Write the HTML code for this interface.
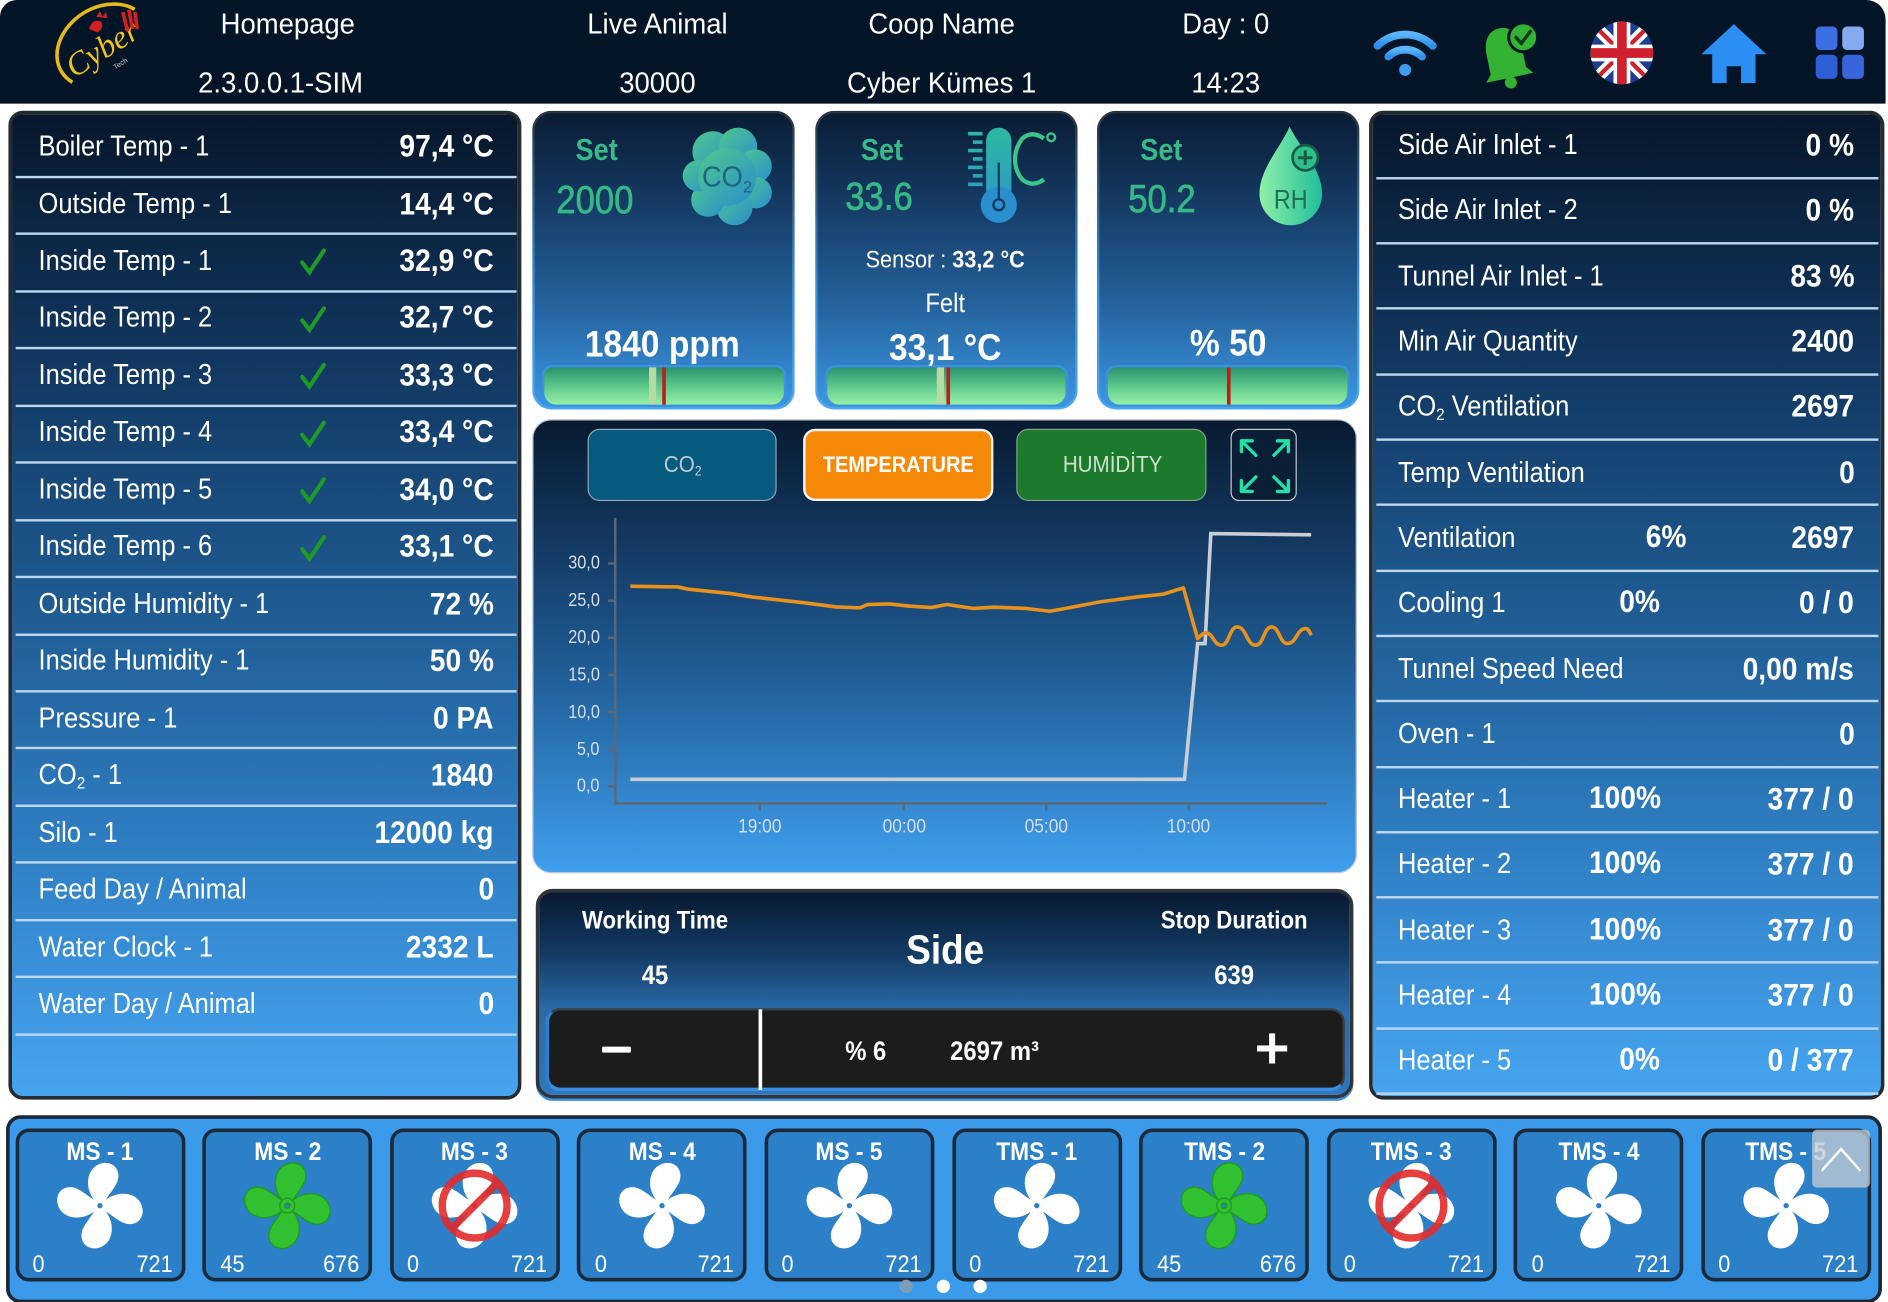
<!DOCTYPE html>
<html><head><meta charset="utf-8">
<style>
html,body{margin:0;padding:0;width:1888px;height:1302px;overflow:hidden;background:#fff}
#s{position:absolute;left:0;top:0;width:1568px;height:1081px;transform:scale(1.204082,1.204440);transform-origin:0 0;background:#fff;font-family:"Liberation Sans",sans-serif;color:#fff;overflow:hidden}
.a{position:absolute}
.t{position:absolute;white-space:nowrap;line-height:1}
.L{transform:scaleX(.9);transform-origin:0 50%}
.R{transform:scaleX(.9);transform-origin:100% 50%}
.C{transform:translateX(-50%) scaleX(.9)}
.H{transform:translateX(-50%) scaleX(.95)}
.b{font-weight:bold}
.panel{position:absolute;box-sizing:border-box;border:3px solid #262b31;border-radius:12px;background:linear-gradient(180deg,#07172b 0%,#113760 25%,#1f5b92 50%,#2f7fc4 75%,#46a5f0 100%)}
.card{position:absolute;top:92px;width:218px;height:248px;box-sizing:border-box;border:2.5px solid transparent;border-radius:16px;background:linear-gradient(180deg,#091c34 0%,#153a63 30%,#24629c 65%,#3c96e4 100%) padding-box,linear-gradient(180deg,#2b333d,#3b8fd8 60%,#4aa8f0) border-box}
.bar{position:absolute;top:303px;height:35px;box-sizing:border-box;border:2px solid #3b93de;border-radius:9px 9px 12px 12px;background:linear-gradient(180deg,#2a9270,#5cc88a 50%,#98f0a8);overflow:hidden}
.rows{position:absolute}
.row{position:relative;display:flex;align-items:center;justify-content:space-between;box-sizing:border-box;border-bottom:2.5px solid #bdd7ee;white-space:nowrap}
.lr .row{height:47.47px;padding:0 19px 3px 19px}
.rr .row{height:54.3px;padding:0 20px 0 18px}
.lb{font-size:23.5px;display:inline-block;transform:scaleX(.9);transform-origin:0 50%}
.vl{font-size:26px;font-weight:bold;display:inline-block;transform:scaleX(.9);transform-origin:100% 50%}
.mid{position:absolute;top:0;bottom:2.5px;display:flex;align-items:center}
.ck{position:absolute;left:235px;top:10px}
sub{font-size:.6em;vertical-align:-.25em;line-height:0}
.btn{position:absolute;top:356px;height:60px;box-sizing:border-box;border-radius:10px}
.fc{position:absolute;top:937px;width:141px;height:127px;box-sizing:border-box;background:#2c80c8;border:3px solid #1b2a3b;border-radius:11px}
.sv{-webkit-text-stroke:0.6px #35b886}
</style></head><body><div id="s">

<!-- header -->
<div class="a" style="left:0;top:0;width:1566px;height:86px;background:#051528;border-radius:14px 16px 0 0"></div>

<!-- left panel -->
<div class="panel" style="left:7px;top:92px;width:426px;height:821px"></div>
<!-- right panel -->
<div class="panel" style="left:1137px;top:92px;width:428px;height:821px"></div>

<!-- top cards -->
<div class="card" style="left:442px"></div>
<div class="card" style="left:677px"></div>
<div class="card" style="left:911px"></div>

<div class="bar" style="left:450px;width:203px"><div class="a" style="left:87px;top:0;width:6px;height:100%;background:#b4dca4"></div><div class="a" style="left:98px;top:0;width:2.5px;height:100%;background:#c81818"></div></div>
<div class="bar" style="left:685px;width:202px"><div class="a" style="left:91px;top:0;width:6px;height:100%;background:#b4dca4"></div><div class="a" style="left:99px;top:0;width:2.5px;height:100%;background:#c81818"></div></div>
<div class="bar" style="left:918px;width:203px"><div class="a" style="left:99px;top:0;width:2.5px;height:100%;background:#c81818"></div></div>

<!-- chart panel -->
<div class="a" style="left:442px;top:348px;width:685px;height:377px;box-sizing:border-box;border:1.5px solid #b9c7d5;border-radius:16px;background:linear-gradient(180deg,#081a30 0%,#143c66 30%,#22639e 60%,#3f9fee 100%)"></div>
<div class="btn" style="left:488px;width:157px;background:#075a7e;border:1.5px solid #8aa8b8"></div>
<div class="btn" style="left:667px;width:158px;background:#f68a08;border:2px solid #f4f4f4"></div>
<div class="btn" style="left:844px;width:158px;background:#1b7a2c;border:1.5px solid #7fa08a"></div>
<div class="btn" style="left:1022px;width:55px;background:#0a1e35;border:1.5px solid #c0c8d0;border-radius:7px"></div>

<!-- bottom middle panel -->
<div class="a" style="left:445px;top:738px;width:679px;height:174px;box-sizing:border-box;border:3px solid #30353b;border-radius:14px;background:linear-gradient(180deg,#071a30 0%,#133a63 30%,#2a6aa8 58%,#2f78bd 100%);box-shadow:0 2px 0 #3b8fe0"></div>
<div class="a" style="left:453px;top:837px;width:664px;height:69px;box-sizing:border-box;background:#1c1c1c;border:2px solid #3a3f45;border-bottom:3px solid #3b8fe0;border-left:3px solid #2f7fcf;border-radius:12px"></div>
<div class="a" style="left:630px;top:838px;width:2.5px;height:67px;background:#fff"></div>
<div class="a" style="left:500px;top:869px;width:24px;height:5px;background:#fff;border-radius:1px"></div>
<div class="a" style="left:1044px;top:868px;width:25px;height:5px;background:#fff"></div>
<div class="a" style="left:1054px;top:858px;width:5px;height:25px;background:#fff"></div>

<!-- fan strip -->
<div class="a" style="left:5px;top:926px;width:1558px;height:156px;box-sizing:border-box;background:#3b9bea;border:3px solid #1b2838;border-radius:12px"></div>
<div class="fc" style="left:12.5px"></div>
<div class="fc" style="left:168.1px"></div>
<div class="fc" style="left:323.7px"></div>
<div class="fc" style="left:479.3px"></div>
<div class="fc" style="left:634.9px"></div>
<div class="fc" style="left:790.5px"></div>
<div class="fc" style="left:946.1px"></div>
<div class="fc" style="left:1101.7px"></div>
<div class="fc" style="left:1257.3px"></div>
<div class="fc" style="left:1412.9px"></div>

<!-- SVG overlay -->
<svg class="a" style="left:0;top:0" width="1568" height="1081" viewBox="0 0 1568 1081">
<defs>
<linearGradient id="cg" x1="0" y1="0" x2="1" y2="1"><stop offset="0" stop-color="#4ec98a"/><stop offset="1" stop-color="#2a8ecf"/></linearGradient>
<linearGradient id="tg" gradientUnits="userSpaceOnUse" x1="0" y1="105" x2="0" y2="187"><stop offset="0" stop-color="#2fb9a0"/><stop offset="1" stop-color="#2a8fd0"/></linearGradient>
<linearGradient id="rg" x1="0" y1="0" x2="1" y2="0"><stop offset="0" stop-color="#90f0a8"/><stop offset="1" stop-color="#1fbe9c"/></linearGradient>
<linearGradient id="wg" x1="0" y1="0" x2="0" y2="1"><stop offset="0" stop-color="#5cb4fa"/><stop offset="1" stop-color="#2e8ee8"/></linearGradient>
<clipPath id="fcp"><circle cx="1347" cy="44" r="26"/></clipPath>
</defs>

<!-- logo -->
<g transform="translate(86,38) rotate(-32)">
<path d="M-38 12 A40 31 0 1 1 38 -12" fill="none" stroke="#e5b81c" stroke-width="3"/>
<text x="-2" y="10" text-anchor="middle" font-family="Liberation Serif" font-style="italic" font-size="27" fill="#f0c419">Cyber</text>
<text x="4" y="22" text-anchor="middle" font-family="Liberation Sans" font-size="6" fill="#c8c8c8">Tech</text>
</g>
<path d="M74 24 q3 -9 10 -6 q3 5 -3 9 z" fill="#d42020"/>
<path d="M80 14 l3 -5 l2 5 l3 -4 l1 5 z" fill="#d42020"/>
<path d="M102 10 l4 16 M107 8 l3 16 M112 10 l2 14" stroke="#d42020" stroke-width="3"/>

<!-- wifi -->
<g fill="none" stroke="url(#wg)" stroke-width="6.5" stroke-linecap="round">
<path d="M1144 38 A33 33 0 0 1 1190 38"/>
<path d="M1153 47 A20 20 0 0 1 1181 47"/>
</g>
<circle cx="1167" cy="58" r="5" fill="#3f9cf0"/>

<!-- bell -->
<g transform="translate(1250,46) rotate(-12)">
<path d="M-15 13 L-15 -3 C-15 -17 -8 -23 0 -23 C8 -23 15 -17 15 -3 L15 13 L20 19 L-20 19 Z" fill="#33b233"/>
<circle cx="0" cy="23" r="5" fill="#33b233"/>
</g>
<circle cx="1265" cy="31" r="12" fill="#33b233" stroke="#051528" stroke-width="2.5"/>
<path d="M1259 31 L1263.5 36 L1271 26" fill="none" stroke="#0e3a1a" stroke-width="2.8" stroke-linecap="round"/>

<!-- UK flag -->
<g clip-path="url(#fcp)">
<rect x="1321" y="18" width="52" height="52" fill="#1d3f91"/>
<path d="M1321 18 L1373 70 M1373 18 L1321 70" stroke="#fff" stroke-width="10"/>
<path d="M1321 18 L1373 70 M1373 18 L1321 70" stroke="#d0202e" stroke-width="3.5"/>
<path d="M1347 18 V70 M1321 44 H1373" stroke="#fff" stroke-width="14"/>
<path d="M1347 18 V70 M1321 44 H1373" stroke="#d0202e" stroke-width="8"/>
</g>

<!-- home -->
<path d="M1440 20 L1467 45 L1458 45 L1458 69 L1446 69 L1446 55 L1434 55 L1434 69 L1422 69 L1422 45 L1413 45 Z" fill="#2b8ef2"/>

<!-- grid -->
<rect x="1508" y="22" width="18" height="19.5" rx="4" fill="#3d6fe4"/>
<rect x="1530" y="22" width="18" height="19.5" rx="4" fill="#86aaf0"/>
<rect x="1508" y="45.5" width="18" height="20" rx="4" fill="#2f5fd6"/>
<rect x="1530" y="45.5" width="18" height="20" rx="4" fill="#3566dc"/>

<!-- CO2 cloud -->
<g fill="url(#cg)">
<circle cx="592" cy="126" r="17"/><circle cx="613" cy="122" r="16"/><circle cx="627" cy="138" r="14"/>
<circle cx="628" cy="160" r="13"/><circle cx="610" cy="172" r="15"/><circle cx="588" cy="166" r="14"/>
<circle cx="580" cy="146" r="13"/><circle cx="604" cy="147" r="24"/>
</g>
<text x="583" y="155" font-family="Liberation Sans" font-size="24" fill="#1e6680" textLength="34" lengthAdjust="spacingAndGlyphs">CO</text>
<text x="617" y="160" font-family="Liberation Sans" font-size="14" fill="#1e6680">2</text>

<!-- thermometer -->
<g stroke="url(#tg)" stroke-width="3">
<path d="M804 111 H816 M808 118 H816 M804 125 H816 M808 132 H816 M804 139 H816 M808 146 H816 M804 153 H816"/>
</g>
<rect x="819" y="106" width="21" height="62" rx="10.5" fill="url(#tg)"/>
<circle cx="829.5" cy="170" r="15" fill="#2a8fd0"/>
<circle cx="829.5" cy="170" r="4.5" fill="none" stroke="#163f5e" stroke-width="2"/>
<path d="M829.5 135 V165" stroke="#163f5e" stroke-width="2"/>
<path d="M867 115 Q857 108 849 115 Q843 123 843 132 Q843 142 849 149 Q857 156 867 149" fill="none" stroke="#3cc58a" stroke-width="3.5"/>
<circle cx="873" cy="114" r="3.2" fill="none" stroke="#3cc58a" stroke-width="2"/>

<!-- RH drop -->
<path d="M1071 105 C1064 122 1046 140 1046 161 A26 26 0 0 0 1098 161 C1098 140 1079 122 1071 105 Z" fill="url(#rg)"/>
<circle cx="1084" cy="131" r="10.5" fill="#2fbf8a" stroke="#1a5a46" stroke-width="2.2"/>
<path d="M1084 125 V137 M1078 131 H1090" stroke="#1a5a46" stroke-width="2.5"/>
<text x="1058" y="173" font-family="Liberation Sans" font-size="22" fill="#1b6f52" textLength="28" lengthAdjust="spacingAndGlyphs">RH</text>

<!-- fullscreen arrows -->
<g stroke="#22e0a8" stroke-width="2.8" fill="none" stroke-linecap="round">
<path d="M1043 378 L1031 366 M1031 366 H1040 M1031 366 V375"/>
<path d="M1058 378 L1070 366 M1070 366 H1061 M1070 366 V375"/>
<path d="M1043 396 L1031 408 M1031 408 H1040 M1031 408 V399"/>
<path d="M1058 396 L1070 408 M1070 408 H1061 M1070 408 V399"/>
</g>

<!-- chart axes -->
<g stroke="#5b6878" stroke-width="2">
<path d="M511 430 V667 M510 667 H1102"/>
<path d="M505 467.9 H511 M505 498.7 H511 M505 529.5 H511 M505 560.4 H511 M505 591.2 H511 M505 622 H511 M505 652.8 H511"/>
<path d="M631 667 V673 M750.5 667 V673 M869 667 V673 M987.2 667 V673"/>
</g>
<!-- gray series -->
<polyline points="523.5,647 983.7,647 994.6,534.3 1000.8,534.3 1005.6,443 1088.9,444" fill="none" stroke="#c9ced6" stroke-width="3"/>
<!-- orange series -->
<path d="M523.5 486.7 L562.9 487.3 L571.7 489.2 L606.8 492.8 L624.3 495.6 L668.1 500.5 L694.4 503.9 L714.1 504.7 L720.7 501.9 L738.2 501.4 L755.8 503.3 L773.3 504.4 L786.5 501.9 L808.4 505.2 L825.9 504.1 L852.2 505.2 L871.9 507.5 L887.3 504.7 L913.6 499.7 L944.2 495.6 L966.2 493.3 L982.8 488.1 L994.6 530.2 C997.9 527 999.5 525.5 1001.2 525.5 C1007.8 525.5 1007.8 535.7 1014.4 535.7 C1021 535.7 1021 520.5 1027.5 520.5 C1035.2 520.5 1035.2 535.7 1042.9 535.7 C1049.5 535.7 1049.5 520.5 1056 520.5 C1062.6 520.5 1062.6 534.3 1069.2 534.3 C1076.9 534.3 1076.9 521.9 1084.5 521.9 C1086.7 521.9 1087.8 525 1088.9 527.4" fill="none" stroke="#e8921c" stroke-width="3" stroke-linejoin="round"/>

<!-- fans -->
<g transform="translate(83,1001) scale(1.12)" fill="#fff"><path d="M-4 -4 C-11 -12 -11 -27 0 -31 C9 -34 16 -27 13 -18 C10 -11 5 -7 4 -3 Z"/><path transform="rotate(90)" d="M-4 -4 C-11 -12 -11 -27 0 -31 C9 -34 16 -27 13 -18 C10 -11 5 -7 4 -3 Z"/><path transform="rotate(180)" d="M-4 -4 C-11 -12 -11 -27 0 -31 C9 -34 16 -27 13 -18 C10 -11 5 -7 4 -3 Z"/><path transform="rotate(270)" d="M-4 -4 C-11 -12 -11 -27 0 -31 C9 -34 16 -27 13 -18 C10 -11 5 -7 4 -3 Z"/><circle r="5.5"/><circle r="2" fill="#2c80c8"/></g>
<g transform="translate(238.6,1001) scale(1.12)" fill="#30c030" stroke="#1f9a1f" stroke-width="1"><path d="M-4 -4 C-11 -12 -11 -27 0 -31 C9 -34 16 -27 13 -18 C10 -11 5 -7 4 -3 Z"/><path transform="rotate(90)" d="M-4 -4 C-11 -12 -11 -27 0 -31 C9 -34 16 -27 13 -18 C10 -11 5 -7 4 -3 Z"/><path transform="rotate(180)" d="M-4 -4 C-11 -12 -11 -27 0 -31 C9 -34 16 -27 13 -18 C10 -11 5 -7 4 -3 Z"/><path transform="rotate(270)" d="M-4 -4 C-11 -12 -11 -27 0 -31 C9 -34 16 -27 13 -18 C10 -11 5 -7 4 -3 Z"/><circle r="5.5"/><circle r="2" fill="#2c80c8"/></g>
<g transform="translate(394.2,1001) scale(1.12)" fill="#fff"><path d="M-4 -4 C-11 -12 -11 -27 0 -31 C9 -34 16 -27 13 -18 C10 -11 5 -7 4 -3 Z"/><path transform="rotate(90)" d="M-4 -4 C-11 -12 -11 -27 0 -31 C9 -34 16 -27 13 -18 C10 -11 5 -7 4 -3 Z"/><path transform="rotate(180)" d="M-4 -4 C-11 -12 -11 -27 0 -31 C9 -34 16 -27 13 -18 C10 -11 5 -7 4 -3 Z"/><path transform="rotate(270)" d="M-4 -4 C-11 -12 -11 -27 0 -31 C9 -34 16 -27 13 -18 C10 -11 5 -7 4 -3 Z"/><circle r="5.5"/><circle r="2" fill="#2c80c8"/><g fill="none" stroke="#e32b2b" stroke-width="5.5" opacity=".9"><circle r="24"/><path d="M16 -16 L-16 16"/></g></g>
<g transform="translate(549.8,1001) scale(1.12)" fill="#fff"><path d="M-4 -4 C-11 -12 -11 -27 0 -31 C9 -34 16 -27 13 -18 C10 -11 5 -7 4 -3 Z"/><path transform="rotate(90)" d="M-4 -4 C-11 -12 -11 -27 0 -31 C9 -34 16 -27 13 -18 C10 -11 5 -7 4 -3 Z"/><path transform="rotate(180)" d="M-4 -4 C-11 -12 -11 -27 0 -31 C9 -34 16 -27 13 -18 C10 -11 5 -7 4 -3 Z"/><path transform="rotate(270)" d="M-4 -4 C-11 -12 -11 -27 0 -31 C9 -34 16 -27 13 -18 C10 -11 5 -7 4 -3 Z"/><circle r="5.5"/><circle r="2" fill="#2c80c8"/></g>
<g transform="translate(705.4,1001) scale(1.12)" fill="#fff"><path d="M-4 -4 C-11 -12 -11 -27 0 -31 C9 -34 16 -27 13 -18 C10 -11 5 -7 4 -3 Z"/><path transform="rotate(90)" d="M-4 -4 C-11 -12 -11 -27 0 -31 C9 -34 16 -27 13 -18 C10 -11 5 -7 4 -3 Z"/><path transform="rotate(180)" d="M-4 -4 C-11 -12 -11 -27 0 -31 C9 -34 16 -27 13 -18 C10 -11 5 -7 4 -3 Z"/><path transform="rotate(270)" d="M-4 -4 C-11 -12 -11 -27 0 -31 C9 -34 16 -27 13 -18 C10 -11 5 -7 4 -3 Z"/><circle r="5.5"/><circle r="2" fill="#2c80c8"/></g>
<g transform="translate(861,1001) scale(1.12)" fill="#fff"><path d="M-4 -4 C-11 -12 -11 -27 0 -31 C9 -34 16 -27 13 -18 C10 -11 5 -7 4 -3 Z"/><path transform="rotate(90)" d="M-4 -4 C-11 -12 -11 -27 0 -31 C9 -34 16 -27 13 -18 C10 -11 5 -7 4 -3 Z"/><path transform="rotate(180)" d="M-4 -4 C-11 -12 -11 -27 0 -31 C9 -34 16 -27 13 -18 C10 -11 5 -7 4 -3 Z"/><path transform="rotate(270)" d="M-4 -4 C-11 -12 -11 -27 0 -31 C9 -34 16 -27 13 -18 C10 -11 5 -7 4 -3 Z"/><circle r="5.5"/><circle r="2" fill="#2c80c8"/></g>
<g transform="translate(1016.6,1001) scale(1.12)" fill="#30c030" stroke="#1f9a1f" stroke-width="1"><path d="M-4 -4 C-11 -12 -11 -27 0 -31 C9 -34 16 -27 13 -18 C10 -11 5 -7 4 -3 Z"/><path transform="rotate(90)" d="M-4 -4 C-11 -12 -11 -27 0 -31 C9 -34 16 -27 13 -18 C10 -11 5 -7 4 -3 Z"/><path transform="rotate(180)" d="M-4 -4 C-11 -12 -11 -27 0 -31 C9 -34 16 -27 13 -18 C10 -11 5 -7 4 -3 Z"/><path transform="rotate(270)" d="M-4 -4 C-11 -12 -11 -27 0 -31 C9 -34 16 -27 13 -18 C10 -11 5 -7 4 -3 Z"/><circle r="5.5"/><circle r="2" fill="#2c80c8"/></g>
<g transform="translate(1172.2,1001) scale(1.12)" fill="#fff"><path d="M-4 -4 C-11 -12 -11 -27 0 -31 C9 -34 16 -27 13 -18 C10 -11 5 -7 4 -3 Z"/><path transform="rotate(90)" d="M-4 -4 C-11 -12 -11 -27 0 -31 C9 -34 16 -27 13 -18 C10 -11 5 -7 4 -3 Z"/><path transform="rotate(180)" d="M-4 -4 C-11 -12 -11 -27 0 -31 C9 -34 16 -27 13 -18 C10 -11 5 -7 4 -3 Z"/><path transform="rotate(270)" d="M-4 -4 C-11 -12 -11 -27 0 -31 C9 -34 16 -27 13 -18 C10 -11 5 -7 4 -3 Z"/><circle r="5.5"/><circle r="2" fill="#2c80c8"/><g fill="none" stroke="#e32b2b" stroke-width="5.5" opacity=".9"><circle r="24"/><path d="M16 -16 L-16 16"/></g></g>
<g transform="translate(1327.8,1001) scale(1.12)" fill="#fff"><path d="M-4 -4 C-11 -12 -11 -27 0 -31 C9 -34 16 -27 13 -18 C10 -11 5 -7 4 -3 Z"/><path transform="rotate(90)" d="M-4 -4 C-11 -12 -11 -27 0 -31 C9 -34 16 -27 13 -18 C10 -11 5 -7 4 -3 Z"/><path transform="rotate(180)" d="M-4 -4 C-11 -12 -11 -27 0 -31 C9 -34 16 -27 13 -18 C10 -11 5 -7 4 -3 Z"/><path transform="rotate(270)" d="M-4 -4 C-11 -12 -11 -27 0 -31 C9 -34 16 -27 13 -18 C10 -11 5 -7 4 -3 Z"/><circle r="5.5"/><circle r="2" fill="#2c80c8"/></g>
<g transform="translate(1483.4,1001) scale(1.12)" fill="#fff"><path d="M-4 -4 C-11 -12 -11 -27 0 -31 C9 -34 16 -27 13 -18 C10 -11 5 -7 4 -3 Z"/><path transform="rotate(90)" d="M-4 -4 C-11 -12 -11 -27 0 -31 C9 -34 16 -27 13 -18 C10 -11 5 -7 4 -3 Z"/><path transform="rotate(180)" d="M-4 -4 C-11 -12 -11 -27 0 -31 C9 -34 16 -27 13 -18 C10 -11 5 -7 4 -3 Z"/><path transform="rotate(270)" d="M-4 -4 C-11 -12 -11 -27 0 -31 C9 -34 16 -27 13 -18 C10 -11 5 -7 4 -3 Z"/><circle r="5.5"/><circle r="2" fill="#2c80c8"/></g>

<!-- page dots -->
<circle cx="752.5" cy="1068" r="5.5" fill="#7f9db6"/>
<circle cx="783.5" cy="1068" r="5.5" fill="#fff"/>
<circle cx="814" cy="1068" r="5.5" fill="#fff"/>
</svg>

<!-- header text -->
<div class="t H" style="left:239px;top:9px;font-size:24px">Homepage</div>
<div class="t H" style="left:233px;top:58px;font-size:24px">2.3.0.0.1-SIM</div>
<div class="t H" style="left:546px;top:9px;font-size:24px">Live Animal</div>
<div class="t H" style="left:546px;top:58px;font-size:24px">30000</div>
<div class="t H" style="left:782px;top:9px;font-size:24px">Coop Name</div>
<div class="t H" style="left:782px;top:58px;font-size:24px">Cyber Kümes 1</div>
<div class="t H" style="left:1018px;top:9px;font-size:24px">Day : 0</div>
<div class="t H" style="left:1018px;top:58px;font-size:24px">14:23</div>

<!-- left rows -->
<div class="rows lr" style="left:13px;top:100.3px;width:416px">
<div class="row"><span class="lb">Boiler Temp - 1</span><span class="vl">97,4 °C</span></div>
<div class="row"><span class="lb">Outside Temp - 1</span><span class="vl">14,4 °C</span></div>
<div class="row"><span class="lb">Inside Temp - 1</span><svg class="ck" width="24" height="24" viewBox="0 0 24 24"><path d="M3 13 L9 21 L21 3" fill="none" stroke="#1f9a24" stroke-width="3.4" stroke-linecap="round"/></svg><span class="vl">32,9 °C</span></div>
<div class="row"><span class="lb">Inside Temp - 2</span><svg class="ck" width="24" height="24" viewBox="0 0 24 24"><path d="M3 13 L9 21 L21 3" fill="none" stroke="#1f9a24" stroke-width="3.4" stroke-linecap="round"/></svg><span class="vl">32,7 °C</span></div>
<div class="row"><span class="lb">Inside Temp - 3</span><svg class="ck" width="24" height="24" viewBox="0 0 24 24"><path d="M3 13 L9 21 L21 3" fill="none" stroke="#1f9a24" stroke-width="3.4" stroke-linecap="round"/></svg><span class="vl">33,3 °C</span></div>
<div class="row"><span class="lb">Inside Temp - 4</span><svg class="ck" width="24" height="24" viewBox="0 0 24 24"><path d="M3 13 L9 21 L21 3" fill="none" stroke="#1f9a24" stroke-width="3.4" stroke-linecap="round"/></svg><span class="vl">33,4 °C</span></div>
<div class="row"><span class="lb">Inside Temp - 5</span><svg class="ck" width="24" height="24" viewBox="0 0 24 24"><path d="M3 13 L9 21 L21 3" fill="none" stroke="#1f9a24" stroke-width="3.4" stroke-linecap="round"/></svg><span class="vl">34,0 °C</span></div>
<div class="row"><span class="lb">Inside Temp - 6</span><svg class="ck" width="24" height="24" viewBox="0 0 24 24"><path d="M3 13 L9 21 L21 3" fill="none" stroke="#1f9a24" stroke-width="3.4" stroke-linecap="round"/></svg><span class="vl">33,1 °C</span></div>
<div class="row"><span class="lb">Outside Humidity - 1</span><span class="vl">72 %</span></div>
<div class="row"><span class="lb">Inside Humidity - 1</span><span class="vl">50 %</span></div>
<div class="row"><span class="lb">Pressure - 1</span><span class="vl">0 PA</span></div>
<div class="row"><span class="lb">CO<sub>2</sub> - 1</span><span class="vl">1840</span></div>
<div class="row"><span class="lb">Silo - 1</span><span class="vl">12000 kg</span></div>
<div class="row"><span class="lb">Feed Day / Animal</span><span class="vl">0</span></div>
<div class="row"><span class="lb">Water Clock - 1</span><span class="vl">2332 L</span></div>
<div class="row"><span class="lb">Water Day / Animal</span><span class="vl">0</span></div>
</div>

<!-- right rows -->
<div class="rows rr" style="left:1143px;top:94.55px;width:417px">
<div class="row"><span class="lb">Side Air Inlet - 1</span><span class="vl">0 %</span></div>
<div class="row"><span class="lb">Side Air Inlet - 2</span><span class="vl">0 %</span></div>
<div class="row"><span class="lb">Tunnel Air Inlet - 1</span><span class="vl">83 %</span></div>
<div class="row"><span class="lb">Min Air Quantity</span><span class="vl">2400</span></div>
<div class="row"><span class="lb">CO<sub>2</sub> Ventilation</span><span class="vl">2697</span></div>
<div class="row"><span class="lb">Temp Ventilation</span><span class="vl">0</span></div>
<div class="row"><span class="lb">Ventilation</span><div class="mid" style="right:159px"><span class="vl">6%</span></div><span class="vl">2697</span></div>
<div class="row"><span class="lb">Cooling 1</span><div class="mid" style="right:181px"><span class="vl">0%</span></div><span class="vl">0 / 0</span></div>
<div class="row"><span class="lb">Tunnel Speed Need</span><span class="vl">0,00 m/s</span></div>
<div class="row"><span class="lb">Oven - 1</span><span class="vl">0</span></div>
<div class="row"><span class="lb">Heater - 1</span><div class="mid" style="right:181px"><span class="vl">100%</span></div><span class="vl">377 / 0</span></div>
<div class="row"><span class="lb">Heater - 2</span><div class="mid" style="right:181px"><span class="vl">100%</span></div><span class="vl">377 / 0</span></div>
<div class="row"><span class="lb">Heater - 3</span><div class="mid" style="right:181px"><span class="vl">100%</span></div><span class="vl">377 / 0</span></div>
<div class="row"><span class="lb">Heater - 4</span><div class="mid" style="right:181px"><span class="vl">100%</span></div><span class="vl">377 / 0</span></div>
<div class="row"><span class="lb">Heater - 5</span><div class="mid" style="right:181px"><span class="vl">0%</span></div><span class="vl">0 / 377</span></div>
</div>

<!-- card texts -->
<div class="t L b" style="left:478px;top:112.5px;font-size:25px;color:#37b98a">Set</div>
<div class="t L sv" style="left:462px;top:150px;font-size:32px;color:#35b886">2000</div>
<div class="t L b" style="left:715px;top:112.5px;font-size:25px;color:#37b98a">Set</div>
<div class="t L sv" style="left:702px;top:147px;font-size:32px;color:#35b886">33.6</div>
<div class="t L b" style="left:947px;top:112.5px;font-size:25px;color:#37b98a">Set</div>
<div class="t L sv" style="left:937px;top:149px;font-size:32px;color:#35b886">50.2</div>
<div class="t C b" style="left:550px;top:269.5px;font-size:31px">1840 ppm</div>
<div class="t C" style="left:785px;top:206px;font-size:20px">Sensor : <b>33,2 °C</b></div>
<div class="t C" style="left:785px;top:241px;font-size:22px">Felt</div>
<div class="t C b" style="left:785px;top:272.5px;font-size:31px">33,1 °C</div>
<div class="t C b" style="left:1020px;top:268.5px;font-size:31px">% 50</div>

<!-- chart buttons -->
<div class="t C" style="left:567px;top:376.5px;font-size:19px;color:#b9cdd9">CO<sub>2</sub></div>
<div class="t C b" style="left:746px;top:377px;font-size:18.5px">TEMPERATURE</div>
<div class="t C" style="left:924px;top:376.5px;font-size:19px;color:#cfe0cf">HUMİDİTY</div>

<!-- y labels -->
<div class="t R" style="right:1070px;top:460.4px;font-size:15px;color:#d6dfe8">30,0</div>
<div class="t R" style="right:1070px;top:491.2px;font-size:15px;color:#d6dfe8">25,0</div>
<div class="t R" style="right:1070px;top:522px;font-size:15px;color:#d6dfe8">20,0</div>
<div class="t R" style="right:1070px;top:552.9px;font-size:15px;color:#d6dfe8">15,0</div>
<div class="t R" style="right:1070px;top:583.7px;font-size:15px;color:#d6dfe8">10,0</div>
<div class="t R" style="right:1070px;top:614.5px;font-size:15px;color:#d6dfe8">5,0</div>
<div class="t R" style="right:1070px;top:645.3px;font-size:15px;color:#d6dfe8">0,0</div>
<!-- x labels -->
<div class="t C" style="left:631px;top:678.6px;font-size:16px;color:#d6dfe8">19:00</div>
<div class="t C" style="left:750.5px;top:678.6px;font-size:16px;color:#d6dfe8">00:00</div>
<div class="t C" style="left:869px;top:678.6px;font-size:16px;color:#d6dfe8">05:00</div>
<div class="t C" style="left:987.2px;top:678.6px;font-size:16px;color:#d6dfe8">10:00</div>

<!-- bottom panel texts -->
<div class="t C b" style="left:543.6px;top:755px;font-size:20.5px">Working Time</div>
<div class="t C b" style="left:543.6px;top:799.4px;font-size:22px">45</div>
<div class="t C b" style="left:785px;top:772px;font-size:34px">Side</div>
<div class="t C b" style="left:1024.8px;top:755px;font-size:20.5px">Stop Duration</div>
<div class="t C b" style="left:1024.8px;top:799.4px;font-size:22px">639</div>
<div class="t C b" style="left:719px;top:862.4px;font-size:22px">% 6</div>
<div class="t C b" style="left:825.7px;top:862.4px;font-size:22px">2697 m³</div>

<!-- fan texts -->
<div class="t C b" style="left:83px;top:946px;font-size:21px">MS - 1</div>
<div class="t C b" style="left:238.6px;top:946px;font-size:21px">MS - 2</div>
<div class="t C b" style="left:394.2px;top:946px;font-size:21px">MS - 3</div>
<div class="t C b" style="left:549.8px;top:946px;font-size:21px">MS - 4</div>
<div class="t C b" style="left:705.4px;top:946px;font-size:21px">MS - 5</div>
<div class="t C b" style="left:861px;top:946px;font-size:21px">TMS - 1</div>
<div class="t C b" style="left:1016.6px;top:946px;font-size:21px">TMS - 2</div>
<div class="t C b" style="left:1172.2px;top:946px;font-size:21px">TMS - 3</div>
<div class="t C b" style="left:1327.8px;top:946px;font-size:21px">TMS - 4</div>
<div class="t C b" style="left:1483.4px;top:946px;font-size:21px">TMS - 5</div>

<div class="t L" style="left:27px;top:1040px;font-size:20px">0</div><div class="t R" style="right:1425px;top:1040px;font-size:20px">721</div>
<div class="t L" style="left:182.6px;top:1040px;font-size:20px">45</div><div class="t R" style="right:1269.4px;top:1040px;font-size:20px">676</div>
<div class="t L" style="left:338.2px;top:1040px;font-size:20px">0</div><div class="t R" style="right:1113.8px;top:1040px;font-size:20px">721</div>
<div class="t L" style="left:493.8px;top:1040px;font-size:20px">0</div><div class="t R" style="right:958.2px;top:1040px;font-size:20px">721</div>
<div class="t L" style="left:649.4px;top:1040px;font-size:20px">0</div><div class="t R" style="right:802.6px;top:1040px;font-size:20px">721</div>
<div class="t L" style="left:805px;top:1040px;font-size:20px">0</div><div class="t R" style="right:647px;top:1040px;font-size:20px">721</div>
<div class="t L" style="left:960.6px;top:1040px;font-size:20px">45</div><div class="t R" style="right:491.4px;top:1040px;font-size:20px">676</div>
<div class="t L" style="left:1116.2px;top:1040px;font-size:20px">0</div><div class="t R" style="right:335.8px;top:1040px;font-size:20px">721</div>
<div class="t L" style="left:1271.8px;top:1040px;font-size:20px">0</div><div class="t R" style="right:180.2px;top:1040px;font-size:20px">721</div>
<div class="t L" style="left:1427.4px;top:1040px;font-size:20px">0</div><div class="t R" style="right:24.6px;top:1040px;font-size:20px">721</div>

<!-- scroll-up button -->
<div class="a" style="left:1505px;top:938px;width:48px;height:48px;background:rgba(192,202,212,.78);border-radius:4px"></div>
<svg class="a" style="left:1505px;top:938px" width="48" height="48" viewBox="0 0 48 48"><polyline points="8,34 24,16 40,34" fill="none" stroke="#fff" stroke-width="2"/></svg>

</div></body></html>
